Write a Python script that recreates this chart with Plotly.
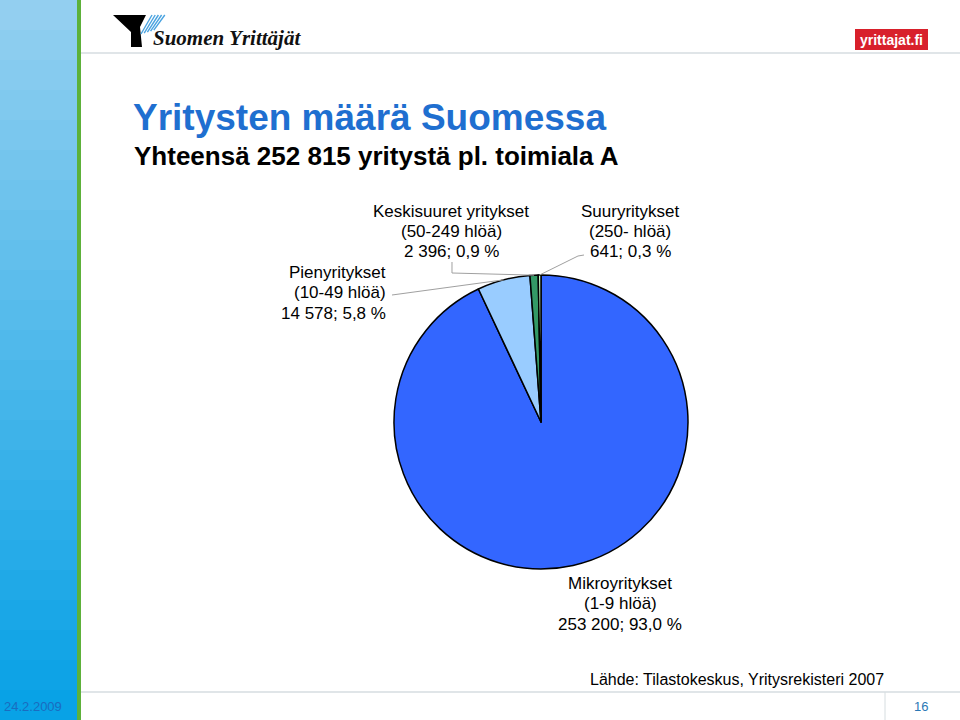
import math
import plotly.graph_objects as go

# ---------------- data ----------------
categories = ["Mikroyritykset", "Pienyritykset", "Keskisuuret yritykset", "Suuryritykset"]
size_classes = ["(1-9 hlöä)", "(10-49 hlöä)", "(50-249 hlöä)", "(250- hlöä)"]
counts_text = ["253 200", "14 578", "2 396", "641"]
shares_pct = [93.0, 5.8, 0.9, 0.3]
share_text = ["93,0 %", "5,8 %", "0,9 %", "0,3 %"]
slice_colors = ["#3366FF", "#99CCFF", "#339966", "#CCFFCC"]

title = "Yritysten määrä Suomessa"
subtitle = "Yhteensä 252 815 yritystä pl. toimiala A"
source = "Lähde: Tilastokeskus, Yritysrekisteri 2007"
date_text = "24.2.2009"
page_no = "16"

W, H = 960, 720
FONT = "Liberation Sans, Arial, sans-serif"


def px(x):
    return x / W


def py(y):
    return 1 - y / H


# pie geometry (pixels)
CX, CY, R = 541, 422, 147

fig = go.Figure()
fig.add_trace(go.Pie(
    labels=categories,
    values=shares_pct,
    sort=False,
    direction="clockwise",
    rotation=0,
    textinfo="none",
    hoverinfo="label+percent",
    marker=dict(colors=slice_colors, line=dict(color="#000000", width=1.5)),
    domain=dict(x=[px(CX - R), px(CX + R)], y=[py(CY + R), py(CY - R)]),
    showlegend=False,
))

shapes = []
annotations = []

# ---- left decorative bar (gradient approximated by bands) ----
top_c = (0x93, 0xCF, 0xF0)
bot_c = (0x08, 0xA2, 0xE6)
nb = 24
for i in range(nb):
    t = i / (nb - 1)
    c = tuple(int(top_c[k] + (bot_c[k] - top_c[k]) * t) for k in range(3))
    shapes.append(dict(type="rect", xref="paper", yref="paper",
                       x0=0, x1=px(77), y0=py(H * (i + 1) / nb + 1), y1=py(H * i / nb),
                       fillcolor="rgb(%d,%d,%d)" % c, line=dict(width=0), layer="below"))
shapes.append(dict(type="rect", xref="paper", yref="paper", x0=px(77), x1=px(81),
                   y0=0, y1=1, fillcolor="#5DB13A", line=dict(width=0)))

# ---- header / footer rules ----
shapes.append(dict(type="line", xref="paper", yref="paper", x0=px(81), x1=1,
                   y0=py(53), y1=py(53), line=dict(color="#D6DDE0", width=1.5)))
shapes.append(dict(type="line", xref="paper", yref="paper", x0=px(81), x1=1,
                   y0=py(692), y1=py(692), line=dict(color="#D6DDE0", width=1.5)))
shapes.append(dict(type="line", xref="paper", yref="paper", x0=px(885), x1=px(885),
                   y0=py(692), y1=0, line=dict(color="#D6DDE0", width=1)))

# ---- Suomen Yrittäjät logo ----
def path(points):
    return "M " + " L ".join("%f,%f" % (px(x), py(y)) for x, y in points) + " Z"

shapes.append(dict(type="path", xref="paper", yref="paper",
                   path=path([(113, 15), (146, 15), (140, 27), (142, 47), (131, 47), (131, 32)]),
                   fillcolor="#000000", line=dict(width=0)))
for k in range(5):
    off = k * 3.2
    shapes.append(dict(type="line", xref="paper", yref="paper",
                       x0=px(141 + off), y0=py(34 - off * 0.3), x1=px(152 + off), y1=py(15),
                       line=dict(color="#4AA3E0", width=1.4)))
annotations.append(dict(text="<b><i>Suomen Yrittäjät</i></b>", xref="paper", yref="paper",
                        x=px(151), y=py(38), xanchor="left", yanchor="middle", showarrow=False,
                        font=dict(family="Liberation Serif, serif", size=21, color="#111111")))

# ---- yrittajat.fi logo ----
shapes.append(dict(type="rect", xref="paper", yref="paper", x0=px(855), x1=px(928),
                   y0=py(50), y1=py(29), fillcolor="#D8202B", line=dict(width=0)))
annotations.append(dict(text="<b>yrittajat.fi</b>", xref="paper", yref="paper",
                        x=px(891.5), y=py(40), xanchor="center", yanchor="middle", showarrow=False,
                        font=dict(family=FONT, size=14, color="#FFFFFF")))

# ---- titles ----
annotations.append(dict(text="<b>%s</b>" % title, xref="paper", yref="paper",
                        x=px(131), y=py(118), xanchor="left", yanchor="middle", showarrow=False,
                        font=dict(family=FONT, size=37, color="#1F6FD0")))
annotations.append(dict(text="<b>%s</b>" % subtitle, xref="paper", yref="paper",
                        x=px(132), y=py(156), xanchor="left", yanchor="middle", showarrow=False,
                        font=dict(family=FONT, size=26, color="#000000")))

# ---- slice labels with leader lines ----
total = sum(shares_pct)
cum = 0.0
mid_pts = []
for v in shares_pct:
    a = (cum + v / 2) / total * 2 * math.pi
    mid_pts.append((CX + R * math.sin(a), CY - R * math.cos(a)))
    cum += v

# (anchor x, first-line y, xanchor)
label_pos = [
    (620, 583, "center"),
    (388, 272, "right"),
    (451, 211, "center"),
    (630, 211, "center"),
]
LS = 20.5
for i in range(len(categories)):
    x, y0, xa = label_pos[i]
    lines = [categories[i], size_classes[i], "%s; %s" % (counts_text[i], share_text[i])]
    for j, ln in enumerate(lines):
        annotations.append(dict(text=ln, xref="paper", yref="paper", x=px(x), y=py(y0 + j * LS),
                                xanchor=xa, yanchor="middle", showarrow=False,
                                font=dict(family=FONT, size=17, color="#000000")))

lc = dict(color="#A0A0A0", width=1)
# Pienyritykset
mx, my = mid_pts[1]
shapes.append(dict(type="line", xref="paper", yref="paper", x0=px(392), y0=py(295),
                   x1=px(mx), y1=py(my), line=lc))
# Keskisuuret
mx, my = mid_pts[2]
shapes.append(dict(type="path", xref="paper", yref="paper",
                   path="M %f,%f L %f,%f L %f,%f" % (px(452), py(262), px(452), py(273), px(mx), py(my)),
                   line=lc))
# Suuryritykset
mx, my = mid_pts[3]
shapes.append(dict(type="path", xref="paper", yref="paper",
                   path="M %f,%f L %f,%f L %f,%f" % (px(584), py(255), px(578), py(256), px(mx), py(my)),
                   line=lc))

# ---- source / footer ----
annotations.append(dict(text=source, xref="paper", yref="paper", x=px(886), y=py(679),
                        xanchor="right", yanchor="middle", showarrow=False,
                        font=dict(family=FONT, size=16, color="#000000")))
annotations.append(dict(text=date_text, xref="paper", yref="paper", x=px(2), y=py(706),
                        xanchor="left", yanchor="middle", showarrow=False,
                        font=dict(family=FONT, size=13, color="#1A6CC0")))
annotations.append(dict(text=page_no, xref="paper", yref="paper", x=px(921), y=py(706),
                        xanchor="center", yanchor="middle", showarrow=False,
                        font=dict(family=FONT, size=13, color="#2A78B5")))

fig.update_layout(
    width=W, height=H,
    margin=dict(l=0, r=0, t=0, b=0),
    paper_bgcolor="#FFFFFF",
    plot_bgcolor="#FFFFFF",
    shapes=shapes,
    annotations=annotations,
    showlegend=False,
)

fig.write_html("out.html")
